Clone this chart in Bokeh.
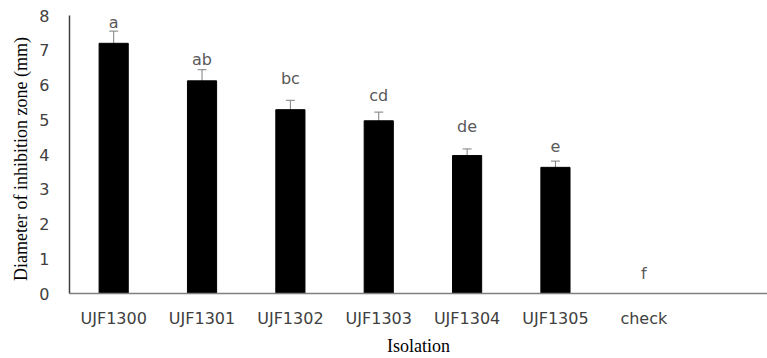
from bokeh.plotting import figure
from bokeh.models import ColumnDataSource, Whisker, TeeHead, FixedTicker, Range1d
from bokeh.core.properties import value
from bokeh.embed import file_html
from bokeh.resources import INLINE

categories = ["UJF1300", "UJF1301", "UJF1302", "UJF1303", "UJF1304", "UJF1305", "check"]
means = [7.20, 6.12, 5.29, 4.97, 3.97, 3.63, 0.0]
errors = [0.35, 0.32, 0.27, 0.25, 0.19, 0.18, 0.0]
letters = ["a", "ab", "bc", "cd", "de", "e", "f"]
letter_y = [7.62, 6.56, 5.99, 5.51, 4.63, 4.17, 0.40]
y_ticks = [0, 1, 2, 3, 4, 5, 6, 7, 8]

xs = list(range(len(categories)))
bar_src = ColumnDataSource(dict(x=xs, top=means))
err_idx = [i for i, e in enumerate(errors) if e > 0]
err_src = ColumnDataSource(dict(
    x=[xs[i] for i in err_idx],
    lower=[means[i] - errors[i] for i in err_idx],
    upper=[means[i] + errors[i] for i in err_idx],
))
lab_src = ColumnDataSource(dict(x=xs, y=letter_y, t=letters))

p = figure(width=767, height=358, output_backend="svg", toolbar_location=None,
           x_range=Range1d(-0.5, 7.40), y_range=Range1d(0, 8),
           min_border_left=69, min_border_right=0, min_border_top=15, min_border_bottom=64)
p.outline_line_color = None
p.grid.visible = False
p.background_fill_color = "white"
p.border_fill_color = "white"

p.vbar(x="x", top="top", width=0.33, source=bar_src, fill_color="black", line_color="black")

w = Whisker(base="x", lower="lower", upper="upper", source=err_src,
            line_color="#7f7f7f", line_width=1,
            upper_head=TeeHead(size=9, line_color="#7f7f7f", line_width=1),
            lower_head=TeeHead(size=9, line_color="#7f7f7f", line_width=1))
p.add_layout(w)

p.text(x="x", y="y", text="t", source=lab_src, text_align="center", text_baseline="bottom",
       y_offset=3, text_font=value("DejaVu Sans"), text_font_size="16px", text_color="#595959")

# x axis
p.xaxis.ticker = FixedTicker(ticks=xs)
p.xaxis.major_label_overrides = {i: c for i, c in zip(xs, categories)}
p.xaxis.major_tick_line_color = None
p.xaxis.minor_tick_line_color = None
p.xaxis.major_tick_out = 0
p.xaxis.major_tick_in = 0
p.xaxis.axis_line_color = "#808080"
p.xaxis.axis_line_width = 1.5
p.xaxis.major_label_standoff = 15
p.xaxis.major_label_text_font = "DejaVu Sans"
p.xaxis.major_label_text_font_size = "16px"
p.xaxis.major_label_text_color = "#404040"
p.xaxis.axis_label = "Isolation"
p.xaxis.axis_label_text_font = "Liberation Serif"
p.xaxis.axis_label_text_font_style = "normal"
p.xaxis.axis_label_text_font_size = "18px"
p.xaxis.axis_label_text_color = "black"
p.xaxis.axis_label_standoff = 5

# y axis
p.yaxis.ticker = FixedTicker(ticks=y_ticks)
p.yaxis.major_tick_line_color = None
p.yaxis.minor_tick_line_color = None
p.yaxis.major_tick_out = 0
p.yaxis.major_tick_in = 0
p.yaxis.axis_line_color = "#404040"
p.yaxis.axis_line_width = 1.5
p.yaxis.major_label_standoff = 20
p.yaxis.major_label_text_font = "DejaVu Sans"
p.yaxis.major_label_text_font_size = "16px"
p.yaxis.major_label_text_color = "#404040"
p.yaxis.axis_label = "Diameter  of inhibition  zone (mm)"
p.yaxis.axis_label_text_font = "Liberation Serif"
p.yaxis.axis_label_text_font_style = "normal"
p.yaxis.axis_label_text_font_size = "18px"
p.yaxis.axis_label_text_color = "black"
p.yaxis.axis_label_standoff = 5

open("out.html", "w").write(file_html(p, INLINE))
